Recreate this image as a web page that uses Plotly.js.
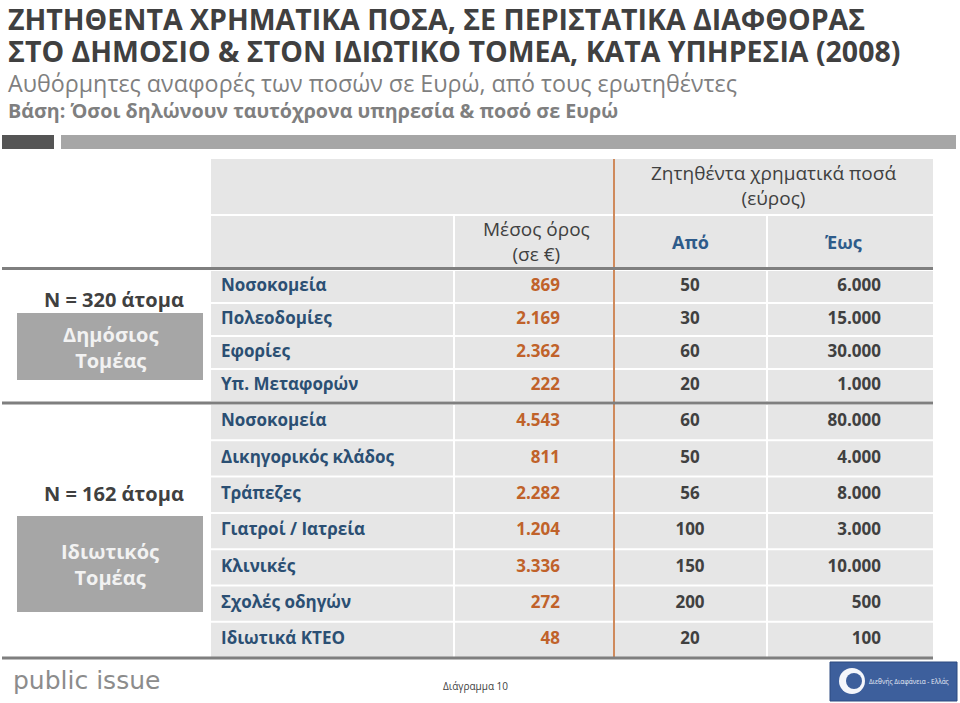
<!DOCTYPE html>
<html><head><meta charset="utf-8">
<script src="https://cdn.plot.ly/plotly-3.0.1.min.js"></script>
<style>html,body{margin:0;padding:0;background:#fff;}#chart{width:960px;height:703px;}</style>
</head><body><div id="chart"></div>
<script>
// ---- data ----
const publicServices = ["Νοσοκομεία", "Πολεοδομίες", "Εφορίες", "Υπ. Μεταφορών"];
const publicMean = [869, 2169, 2362, 222];
const publicFrom = [50, 30, 60, 20];
const publicTo = [6000, 15000, 30000, 1000];
const privateServices = ["Νοσοκομεία", "Δικηγορικός κλάδος", "Τράπεζες", "Γιατροί / Ιατρεία", "Κλινικές", "Σχολές οδηγών", "Ιδιωτικά ΚΤΕΟ"];
const privateMean = [4543, 811, 2282, 1204, 3336, 272, 48];
const privateFrom = [60, 50, 56, 100, 150, 200, 20];
const privateTo = [80000, 4000, 8000, 3000, 10000, 500, 100];
const groupNames = ["Δημόσιος<br>Τομέας", "Ιδιωτικός<br>Τομέας"];
const groupN = [320, 162];
const headerRange = "Ζητηθέντα χρηματικά ποσά<br>(εύρος)";
const headerMean = "Μέσος όρος<br>(σε €)";
const headerFrom = "Από";
const headerTo = "Έως";

// ---- styles ----
const BODY = "Open Sans";
const LABEL_C = "#2b4f73", MEAN_C = "#c0622a", NUM_C = "#404040", HEAD_C = "#404040", BLUE_H = "#2e5b8a";
const CELL = "#e6e6e6", RULE = "#7f7f7f", ORANGE = "#cf8a5c";
const fmt = n => String(n).replace(/\B(?=(\d{3})+(?!\d))/g, '.');

const groups = [
  {labels: publicServices, mean: publicMean, from: publicFrom, to: publicTo, top: 270, h: 33},
  {labels: privateServices, mean: privateMean, from: privateFrom, to: privateTo, top: 404, h: 36.3}
];

const traces = [];
const shapes = [];
const annotations = [];

// header cells
shapes.push({type:'rect', layer:'below', x0:211, x1:933, y0:159, y1:214, fillcolor:CELL, line:{width:0}});
shapes.push({type:'rect', layer:'below', x0:211, x1:933, y0:216, y1:267, fillcolor:CELL, line:{width:0}});

groups.forEach((g, gi) => {
  const ys = g.labels.map((_, i) => g.top + g.h * (i + 0.5));
  g.labels.forEach((_, i) => {
    shapes.push({type:'rect', layer:'below', x0:211, x1:933, y0:g.top + g.h*i + 1, y1:g.top + g.h*(i+1) - 1, fillcolor:CELL, line:{width:0}});
  });
  const common = {type:'scatter', mode:'text', y: ys, hoverinfo:'skip', showlegend:false, cliponaxis:false};
  traces.push(Object.assign({}, common, {x: ys.map(() => 221), text: g.labels, textposition:'middle right',
    textfont:{family:BODY, size:17, color:LABEL_C, weight:700}}));
  traces.push(Object.assign({}, common, {x: ys.map(() => 560), text: g.mean.map(fmt), textposition:'middle left',
    textfont:{family:BODY, size:17, color:MEAN_C, weight:700}}));
  traces.push(Object.assign({}, common, {x: ys.map(() => 690), text: g.from.map(fmt), textposition:'middle center',
    textfont:{family:BODY, size:17, color:NUM_C, weight:700}}));
  traces.push(Object.assign({}, common, {x: ys.map(() => 881), text: g.to.map(fmt), textposition:'middle left',
    textfont:{family:BODY, size:17, color:NUM_C, weight:700}}));
});

// white vertical separators
shapes.push({type:'line', layer:'below', x0:454, x1:454, y0:215, y1:658, line:{color:'#ffffff', width:2}});
shapes.push({type:'line', layer:'below', x0:767, x1:767, y0:215, y1:658, line:{color:'#ffffff', width:2}});
// orange vertical
shapes.push({type:'line', x0:614, x1:614, y0:159, y1:658, line:{color:ORANGE, width:2}});
// thick rules
[268.5, 403, 658].forEach(y => shapes.push({type:'line', x0:2, x1:933, y0:y, y1:y, line:{color:RULE, width:3}}));

// top bar
shapes.push({type:'rect', x0:2, x1:54, y0:135, y1:149, fillcolor:'#555555', line:{width:0}});
shapes.push({type:'rect', x0:61, x1:956, y0:135, y1:149, fillcolor:'#a6a6a6', line:{width:0}});

// group boxes
shapes.push({type:'rect', x0:17, x1:203, y0:313, y1:380, fillcolor:'#a6a6a6', line:{width:0}});
shapes.push({type:'rect', x0:17, x1:203, y0:516, y1:612, fillcolor:'#a6a6a6', line:{width:0}});
annotations.push({x:110, y:347, text:groupNames[0], font:{family:BODY, size:20, color:'#f2f2f2', weight:700}});
annotations.push({x:110, y:564, text:groupNames[1], font:{family:BODY, size:20, color:'#f2f2f2', weight:700}});
annotations.push({x:114, y:299, text:"N = " + groupN[0] + " άτομα", font:{family:BODY, size:20, color:'#404040', weight:700}});
annotations.push({x:114, y:493, text:"N = " + groupN[1] + " άτομα", font:{family:BODY, size:20, color:'#404040', weight:700}});

// headers
annotations.push({x:773, y:185, text:headerRange, font:{family:BODY, size:19, color:HEAD_C}});
annotations.push({x:536, y:241, text:headerMean, font:{family:BODY, size:19, color:HEAD_C}});
annotations.push({x:690, y:242, text:headerFrom, font:{family:BODY, size:18, color:BLUE_H, weight:700}});
annotations.push({x:843, y:242, text:headerTo, font:{family:BODY, size:18, color:BLUE_H, weight:700}});

// titles
const TITLE_F = "Open Sans";
annotations.push({x:6, y:18.5, xanchor:'left', text:"ΖΗΤΗΘΕΝΤΑ ΧΡΗΜΑΤΙΚΑ ΠΟΣΑ, ΣΕ ΠΕΡΙΣΤΑΤΙΚΑ ΔΙΑΦΘΟΡΑΣ", font:{family:TITLE_F, size:28.5, color:'#404040', weight:700}});
annotations.push({x:6, y:50.5, xanchor:'left', text:"ΣΤΟ ΔΗΜΟΣΙΟ & ΣΤΟΝ ΙΔΙΩΤΙΚΟ ΤΟΜΕΑ, ΚΑΤΑ ΥΠΗΡΕΣΙΑ (2008)", font:{family:TITLE_F, size:28.5, color:'#404040', weight:700}});
annotations.push({x:6, y:82.5, xanchor:'left', text:"Αυθόρμητες αναφορές των ποσών σε Ευρώ, από τους ερωτηθέντες", font:{family:TITLE_F, size:23.3, color:'#7f7f7f'}});
annotations.push({x:6, y:110, xanchor:'left', text:"Βάση: Όσοι δηλώνουν ταυτόχρονα υπηρεσία & ποσό σε Ευρώ", font:{family:TITLE_F, size:19.7, color:'#7f7f7f', weight:700}});

// footer
annotations.push({x:11, y:680, xanchor:'left', text:"public issue", font:{family:"DejaVu Sans", size:25, color:'#8c8c8c'}});
annotations.push({x:475, y:686, text:"Διάγραμμα 10", font:{family:BODY, size:10, color:'#404040'}});
shapes.push({type:'rect', x0:830, x1:957, y0:662, y1:701, fillcolor:'#3d5f9c', line:{color:'#2c4a80', width:1}});
shapes.push({type:'circle', x0:839, x1:865, y0:668, y1:694, fillcolor:'#f4f6fb', line:{width:0}});
shapes.push({type:'circle', x0:846, x1:862, y0:673, y1:689, fillcolor:'#3d5f9c', line:{width:0}});
annotations.push({x:867, y:681, xanchor:'left', text:"Διεθνής Διαφάνεια - Ελλάς", font:{family:BODY, size:6.5, color:'#e8edf7'}});

annotations.forEach(a => { a.xref = 'x'; a.yref = 'y'; a.showarrow = false; if (!a.xanchor) a.xanchor = 'center'; a.yanchor = 'middle'; });
shapes.forEach(s => { s.xref = 'x'; s.yref = 'y'; });

const layout = {
  width: 960, height: 703,
  margin: {l:0, r:0, t:0, b:0},
  paper_bgcolor: '#ffffff', plot_bgcolor: '#ffffff',
  xaxis: {range:[0, 960], visible:false, fixedrange:true},
  yaxis: {range:[703, 0], visible:false, fixedrange:true},
  shapes: shapes, annotations: annotations, showlegend:false
};
Plotly.newPlot('chart', traces, layout, {displayModeBar:false, staticPlot:true});
</script></body></html>
